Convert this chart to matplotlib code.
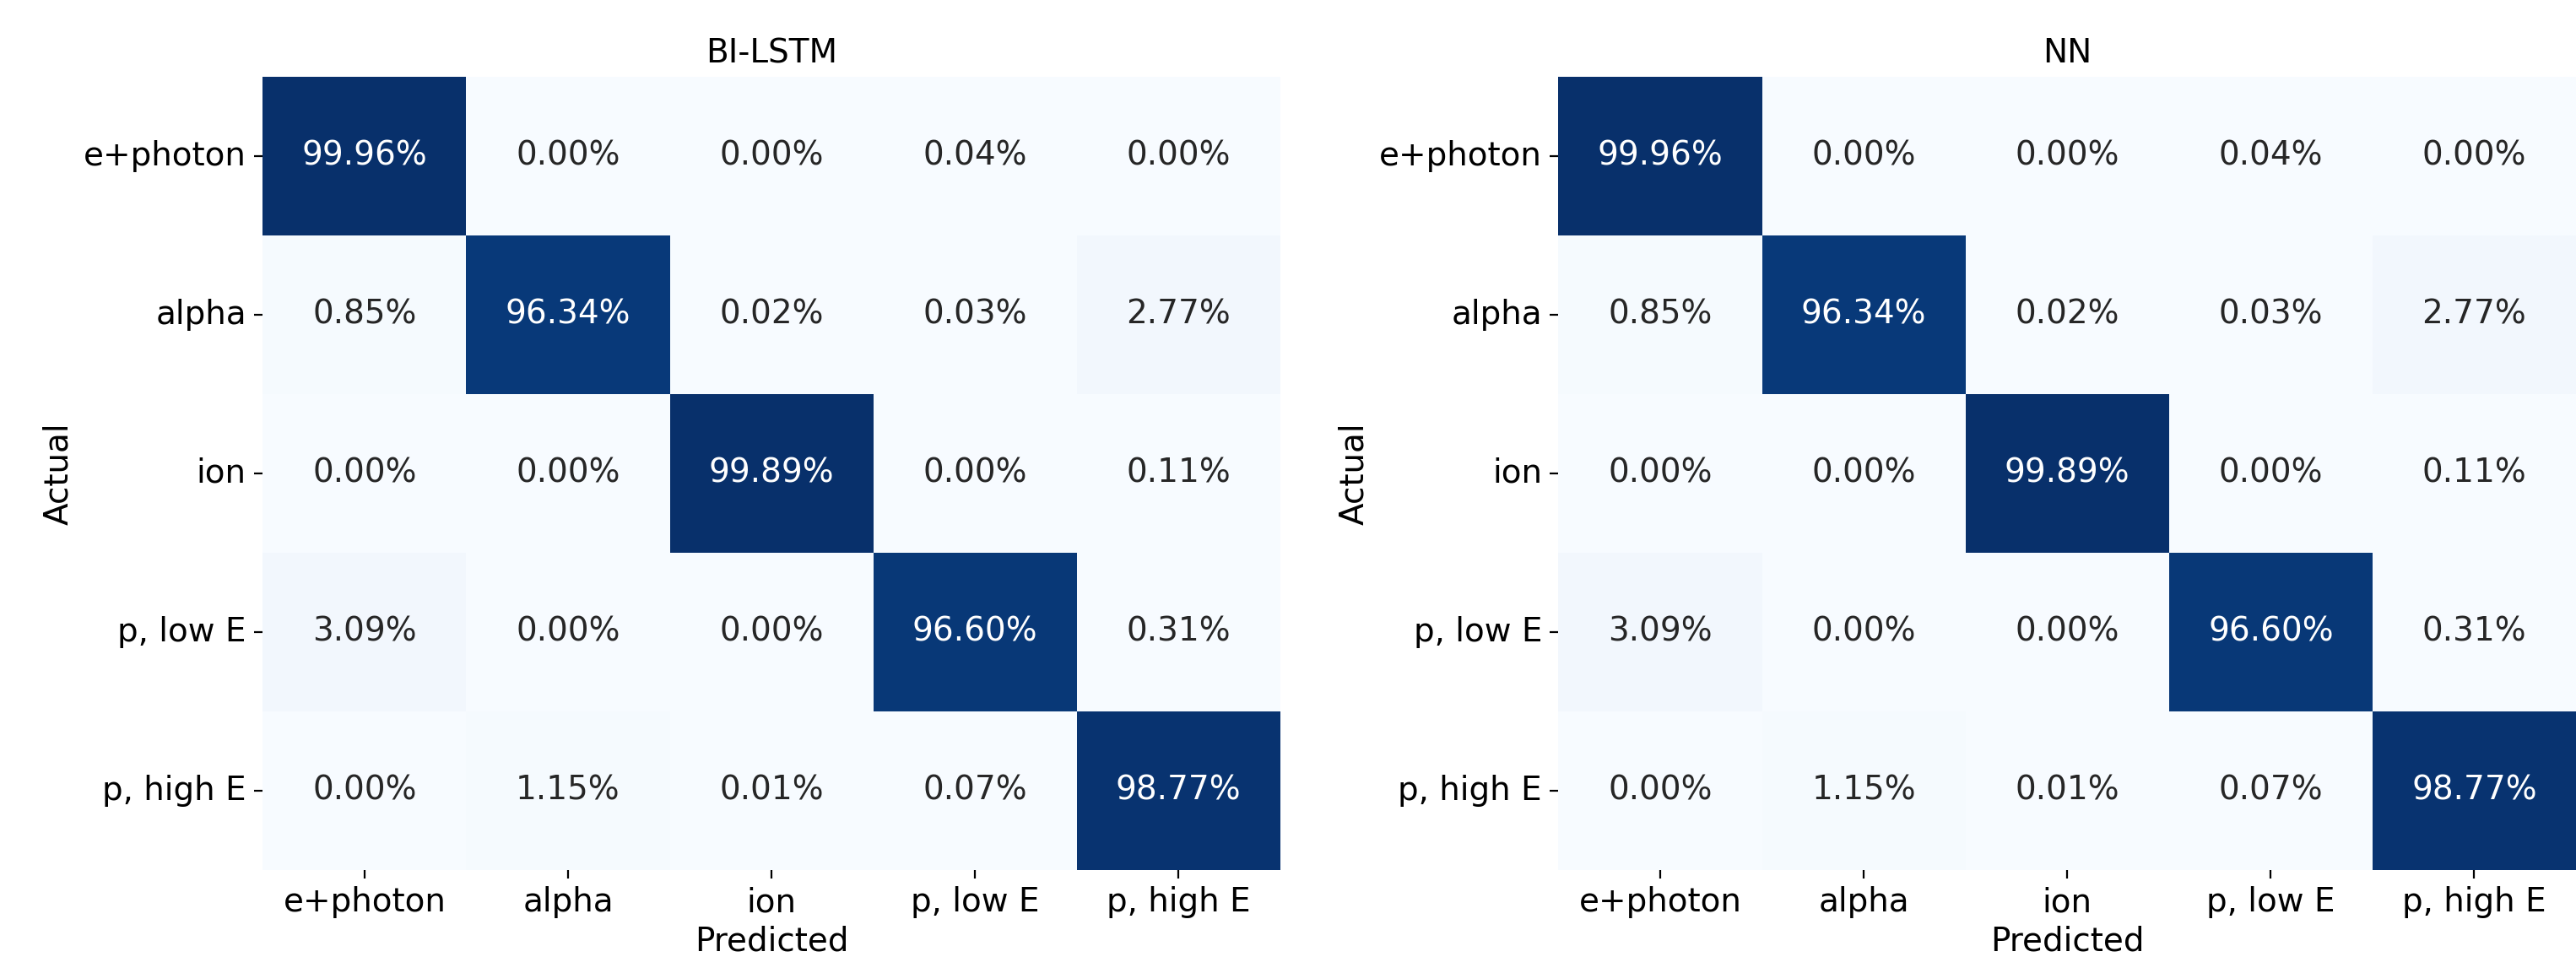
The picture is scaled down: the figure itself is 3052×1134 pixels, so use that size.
import numpy as np
import matplotlib
matplotlib.use('Agg')
import matplotlib.pyplot as plt
import seaborn as sns

classes = ['e+photon', 'alpha', 'ion', 'p, low E', 'p, high E']

# row-normalised confusion matrices, in percent (rows = actual, cols = predicted)
cm_bilstm = np.array([
    [99.96, 0.00, 0.00, 0.04, 0.00],
    [0.85, 96.34, 0.02, 0.03, 2.77],
    [0.00, 0.00, 99.89, 0.00, 0.11],
    [3.09, 0.00, 0.00, 96.60, 0.31],
    [0.00, 1.15, 0.01, 0.07, 98.77],
])
cm_nn = np.array([
    [99.96, 0.00, 0.00, 0.04, 0.00],
    [0.85, 96.34, 0.02, 0.03, 2.77],
    [0.00, 0.00, 99.89, 0.00, 0.11],
    [3.09, 0.00, 0.00, 96.60, 0.31],
    [0.00, 1.15, 0.01, 0.07, 98.77],
])
titles = ['BI-LSTM', 'NN']

fs = 14
fig = plt.figure(figsize=(15.26, 5.67), dpi=200)
axes = [fig.add_axes([0.102, 0.091, 0.395, 0.829]),
        fig.add_axes([0.605, 0.091, 0.395, 0.829])]

for ax, cm, title in zip(axes, [cm_bilstm, cm_nn], titles):
    labels = np.vectorize(lambda v: f'{v:.2f}%')(cm)
    sns.heatmap(cm, ax=ax, cmap='Blues', vmin=0, vmax=100, cbar=False,
                annot=labels, fmt='', annot_kws={'fontsize': fs},
                xticklabels=classes, yticklabels=classes)
    ax.set_title(title, fontsize=fs)
    ax.set_xlabel('Predicted', fontsize=fs, labelpad=3)
    ax.set_ylabel('Actual', fontsize=fs)
    ax.tick_params(labelsize=fs)
    ax.set_yticklabels(classes, rotation=0)
    ax.set_xticklabels(classes, rotation=0)

fig.savefig('out.png', dpi=200)
